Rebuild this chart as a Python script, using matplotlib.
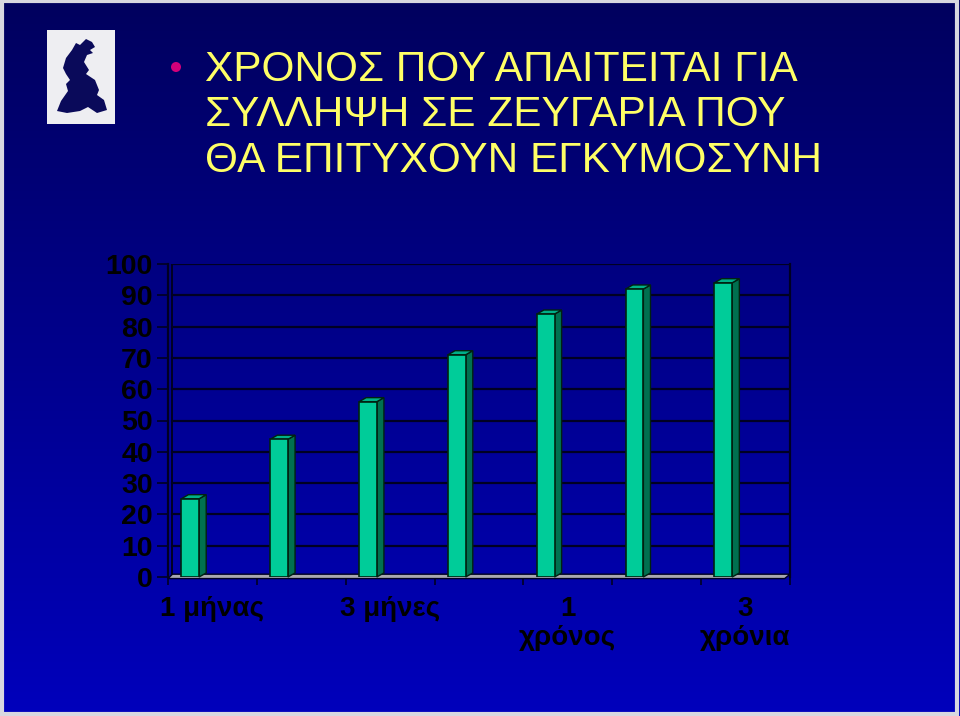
import numpy as np
import matplotlib
matplotlib.use("Agg")
from matplotlib import pyplot as plt
from matplotlib.patches import Polygon, Rectangle, Circle

# data
values = [25, 44, 56, 71, 84, 92, 94]
tick_labels = ["1 μήνας", "", "3 μήνες", "", "1\nχρόνος", "", "3\nχρόνια"]
title_lines = ["ΧΡΟΝΟΣ ΠΟΥ ΑΠΑΙΤΕΙΤΑΙ ΓΙΑ", "ΣΥΛΛΗΨΗ ΣΕ ΖΕΥΓΑΡΙΑ ΠΟΥ", "ΘΑ ΕΠΙΤΥΧΟΥΝ ΕΓΚΥΜΟΣΥΝΗ"]
y_ticks = list(range(0, 101, 10))

W, H = 960, 716
plt.rcParams['font.family'] = ['Liberation Sans', 'DejaVu Sans']
fig = plt.figure(figsize=(W / 100, H / 100), dpi=100)

# background gradient, pixel coords
bg = fig.add_axes([0, 0, 1, 1])
bg.set_xlim(0, W)
bg.set_ylim(H, 0)
bg.axis('off')
grad = np.linspace(0, 1, 256)[:, None]
top = np.array([0.0, 0.0, 0x5e / 255])
bot = np.array([0.0, 0.0, 0xbc / 255])
img = top[None, None, :] * (1 - grad[:, :, None]) + bot[None, None, :] * grad[:, :, None]
bg.imshow(img, extent=[0, W, H, 0], aspect='auto', zorder=0)
# light frame round the slide
bg.add_patch(Rectangle((1.5, 1), W - 5, H - 3, fill=False, ec='#d8d8e0', lw=3, zorder=1))

# logo box with a rough silhouette
bg.add_patch(Rectangle((47, 30), 68, 94, fc='#eeeef2', ec='none', zorder=2))
sil = [(72, 50), (76, 43), (80, 45), (86, 39), (92, 42), (95, 47), (90, 50), (93, 53),
       (87, 55), (84, 62), (89, 70), (86, 74), (95, 80), (99, 90), (97, 95), (104, 100),
       (107, 110), (97, 113), (88, 107), (80, 111), (67, 113), (57, 111), (61, 101),
       (68, 91), (66, 84), (70, 80), (66, 74), (63, 68), (66, 58)]
bg.add_patch(Polygon(sil, closed=True, fc='#0a0a5a', ec='none', zorder=3))

# bullet + title
bg.add_patch(Circle((176, 67), 5, fc='#d4007a', ec='none', zorder=3))
for i, line in enumerate(title_lines):
    bg.text(205, 81 + i * 45.5, line, color='#ffff66', fontsize=30.5, ha='left',
            va='baseline', zorder=3)

# chart axes
x0, x1, y0, y1 = 168, 790, 264, 577
ax = fig.add_axes([x0 / W, 1 - y1 / H, (x1 - x0) / W, (y1 - y0) / H])
ax.set_facecolor('none')
ax.set_xlim(-0.5, 6.5)
ax.set_ylim(0, 100)

for v in y_ticks[1:]:
    ax.plot([-0.45, 6.5], [v, v], color='#000022', lw=1.6, zorder=1)
ax.plot([-0.45, -0.45], [0.9, 100], color='#000022', lw=1.4, zorder=1)

for side in ['top', 'bottom']:
    ax.spines[side].set_visible(False)
ax.spines['left'].set_color('#000022')
ax.spines['right'].set_color('#000022')
ax.spines['left'].set_linewidth(1.6)
ax.spines['right'].set_linewidth(1.6)

# floor
floor = Polygon([(-0.5, -0.5), (6.44, -0.5), (6.5, 0.9), (-0.45, 0.9)], closed=True,
                fc='#a8a8b0', ec='#000022', lw=1.0, clip_on=False, zorder=2)
ax.add_patch(floor)

# 3d-looking bars
xs = np.arange(len(values)) - 0.25
bw = 0.2
dx, dy = 0.08, 1.3
ax.bar(xs, values, width=bw, color='#00cc99', edgecolor='#002211', lw=1.2, zorder=4)
for x, v in zip(xs, values):
    r = x + bw / 2
    l = x - bw / 2
    ax.add_patch(Polygon([(r, 0), (r, v), (r + dx, v + dy), (r + dx, dy)], closed=True,
                         fc='#00704f', ec='#002211', lw=1.0, zorder=3, clip_on=False))
    ax.add_patch(Polygon([(l, v), (r, v), (r + dx, v + dy), (l + dx, v + dy)], closed=True,
                         fc='#00b088', ec='#002211', lw=1.0, zorder=3, clip_on=False))

# ticks
ax.set_yticks(y_ticks)
ax.set_yticklabels([str(t) for t in y_ticks], fontsize=20.5, fontweight='bold', color='black')
ax.tick_params(axis='y', length=8, width=1.2, color='#000022', pad=3)
ax.set_xticks(np.arange(-0.5, 7, 1))
ax.set_xticklabels([])
ax.tick_params(axis='x', length=6, width=1.2, color='#000022', direction='out')
ax.set_xticks(np.arange(len(values)), minor=True)
ax.set_xticklabels(tick_labels, minor=True, fontsize=20, fontweight='bold',
                   color='black', va='top', linespacing=1.15)
ax.tick_params(axis='x', which='minor', length=0, pad=14)
for lab in ax.get_xticklabels(minor=True):
    lab.set_multialignment('center')

fig.savefig('out.png', dpi=100)
